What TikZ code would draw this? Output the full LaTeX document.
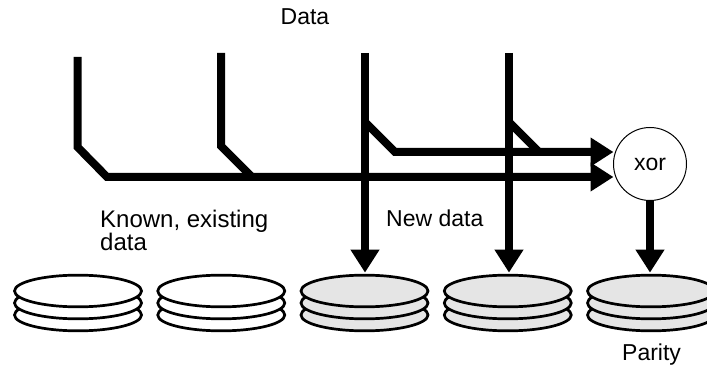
\documentclass[tikz,border=0pt]{standalone}
\usepackage{fontspec}
\setmainfont{Liberation Sans}
\usetikzlibrary{chains}
\usetikzlibrary{shapes.geometric,arrows.meta,positioning}

\begin{document}
\begin{tikzpicture}[x=1pt,y=-1pt]
            \edef\sizeplatter{127pt}
            \tikzstyle{platter}=[draw,ellipse,line width=2.7pt,fill=white,inner sep=0pt,outer sep=0pt,
            minimum width=\sizeplatter,minimum height=31.7pt]
            \tikzstyle{used}=[platter,fill=black!10]
            \tikzstyle{bus}=[line width=8pt,miter limit=10]
            \tikzstyle{busarrow}=[bus,-{Triangle[length=23pt,width=27.5pt]}]
            \tikzstyle{label}=[font=\fontsize{23}{24}\selectfont,inner sep=0pt,align=left]

            \useasboundingbox (0,0) rectangle (707,366);

            % three stacked platters per disk, lowest row first
            \foreach \level/\yy in {c/315,b/303,a/291} {
                \begin{scope}[start chain=1 going right,node distance=16.25pt]
                    \node [on chain=1,platter,name=disk\level1] at (78,\yy) {};
                    \node [on chain=1,platter,name=disk\level2] {};
                    \node [on chain=1,used,name=disk\level3] {};
                    \node [on chain=1,used,name=disk\level4] {};
                    \node [on chain=1,used,name=disk\level5] {};
                \end{scope}
            }

            \node [draw,circle,line width=1pt,minimum size=73pt,inner sep=0pt,outer sep=0pt,
            font=\fontsize{23}{24}\selectfont] (xor) at (650,164) {xor};

            \coordinate (top1) at (77.5,57);
            \coordinate (top2) at (221,53);
            \coordinate (top3) at (365,53);
            \coordinate (top4) at (509,53);
            \coordinate (in1) at (xor.west |- 0,177);
            \coordinate (in2) at (xor.west |- 0,152);

            \draw [busarrow] (top1) -- (77.5,147) -- (107,177) -- (in1);
            \draw [bus] (top2) -- (221,146) -- (252,177);
            \draw [busarrow] (365,122) -- (395,152) -- (in2);
            \draw [bus] (509,122) -- (539,152);
            \draw [busarrow,shorten >=2.5pt] (top3) -- (top3 |- diska3.north);
            \draw [busarrow,shorten >=2.5pt] (top4) -- (top4 |- diska4.north);
            \draw [busarrow,shorten >=2.5pt] (xor.south) -- (xor.south |- diska5.north);

            \node [label,anchor=base] (data) at (305,25) {Data};
            \node [label,anchor=north west,font=\fontsize{24}{23}\selectfont] (known) at (100,210) {Known, existing\\data};
            \node [label,anchor=base west] (new) at (386,227) {New data};
            \node [label,anchor=base west] (parity) at (622,360) {Parity};
        \end{tikzpicture}
\end{document}
